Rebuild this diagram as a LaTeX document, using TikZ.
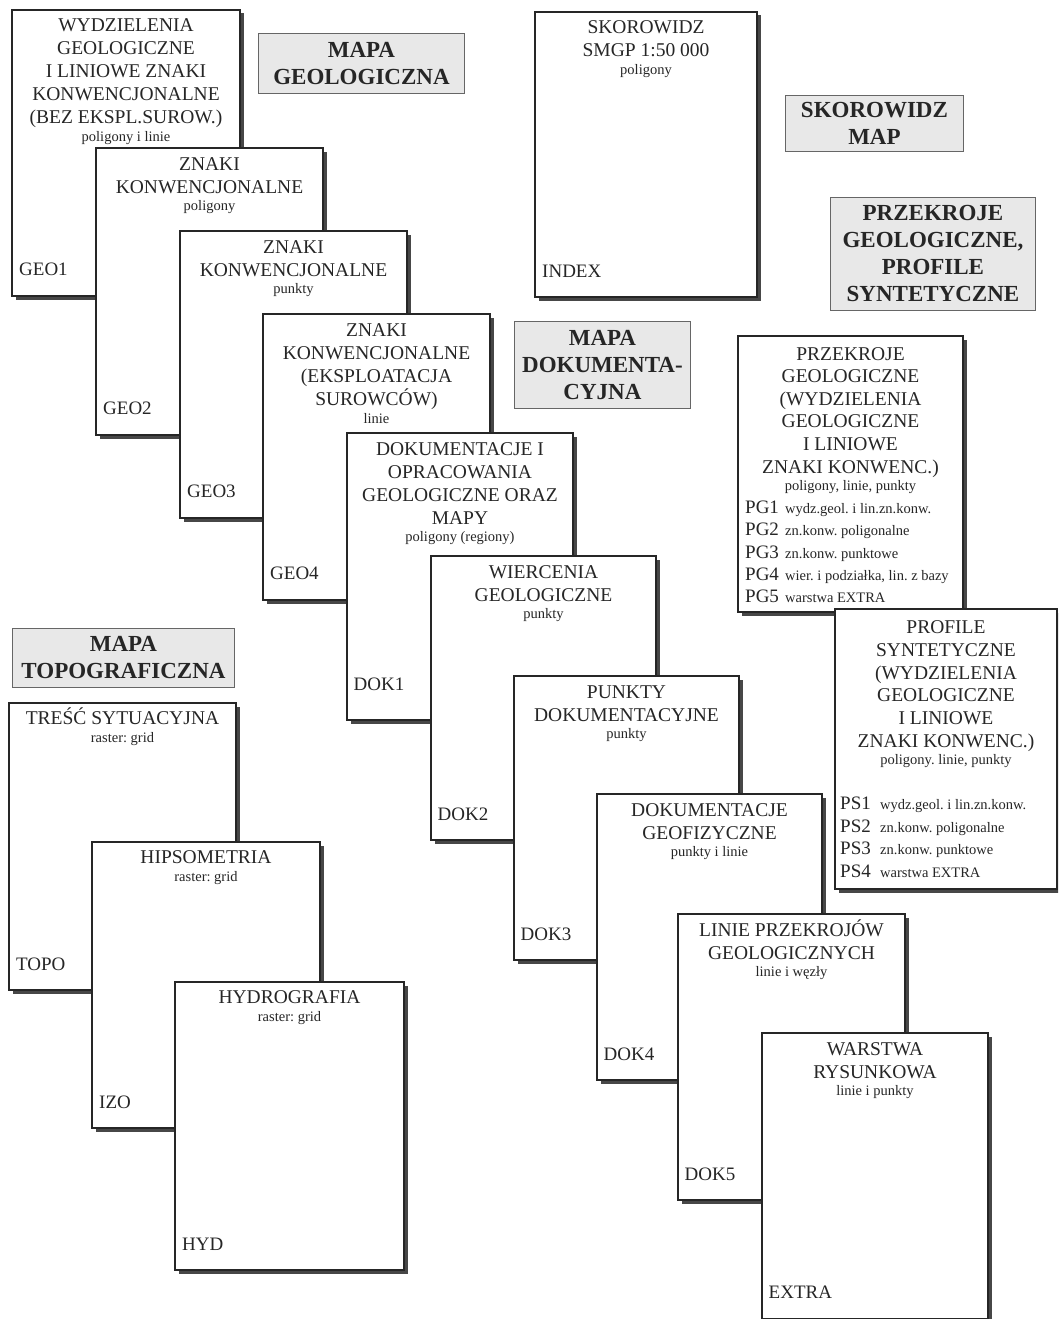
\documentclass[tikz,border=0pt]{standalone}
\usepackage{fontspec}
\setmainfont{Liberation Serif}
\frenchspacing
\newcommand{\smallfnt}{\fontsize{14.5}{17}\selectfont}
\newcommand{\cardtext}[1]{\begin{tabular}[t]{@{}c@{}}#1\end{tabular}}
\newcommand{\listtext}[1]{\begin{tabular}[t]{@{}l@{}}#1\end{tabular}}
\newcommand{\prow}[2]{\makebox[40pt][l]{#1}{\smallfnt #2}}
\begin{document}
\begin{tikzpicture}[x=1pt,y=-1pt,
  card/.style={draw=black!85, line width=1.5pt, fill=white, anchor=north west,
    inner sep=0pt, outer sep=0pt,
    preaction={fill=black!72, transform canvas={shift={(3.5pt,-3.5pt)}}}},
  ttl/.style={font=\fontsize{19.5}{23}\selectfont\frenchspacing, text=black!85, inner sep=0pt, anchor=base},
  code/.style={font=\fontsize{19}{23}\selectfont\frenchspacing, text=black!85, inner sep=0pt, anchor=base west},
  hdr/.style={draw=black!60, line width=0.9pt, fill=black!9, anchor=north west,
    inner sep=0pt, align=center, text=black!85,
    font=\fontsize{23}{27}\selectfont\bfseries}
]
\useasboundingbox (0,0) rectangle (1058,1319);
\fill[white] (0,0) rectangle (1058,1319);
\clip (0,0) rectangle (1058,1319);

% ---------- headers ----------
\node[hdr, minimum width=206pt, minimum height=60pt] (hgeo) at (258,33) {MAPA\\GEOLOGICZNA};
\node[hdr, minimum width=178pt, minimum height=56pt] (hidx) at (785,95) {SKOROWIDZ\\MAP};
\node[hdr, minimum width=205pt, minimum height=113pt] (hprz) at (830,197) {PRZEKROJE\\GEOLOGICZNE,\\PROFILE\\SYNTETYCZNE};
\node[hdr, minimum width=176pt, minimum height=87pt] (hdok) at (514,321) {MAPA\\DOKUMENTA-\\CYJNA};
\node[hdr, minimum width=222pt, minimum height=59pt] (htop) at (12,628) {MAPA\\TOPOGRAFICZNA};

% ---------- index ----------
\node[card, minimum width=222pt, minimum height=285pt] (idx) at (535,12) {};
\node[ttl] (idxt) at ([yshift=-22pt]idx.north) {\cardtext{SKOROWIDZ\\SMGP 1:50 000\\[-5.5pt]\smallfnt poligony}};
\node[code] (idxc) at ([xshift=7pt,yshift=20pt]idx.south west) {INDEX};

% ---------- geological map stack ----------
\node[card, minimum width=228pt, minimum height=286pt] (geo1) at (12,10) {};
\node[ttl] (geo1t) at ([yshift=-22pt]geo1.north) {\cardtext{WYDZIELENIA\\GEOLOGICZNE\\I LINIOWE ZNAKI\\KONWENCJONALNE\\(BEZ EKSPL.SUROW.)\\[-5.5pt]\smallfnt poligony i linie}};
\node[code] (geo1c) at ([xshift=7pt,yshift=21pt]geo1.south west) {GEO1};

\node[card, minimum width=227pt, minimum height=287pt] (geo2) at (96,148) {};
\node[ttl] (geo2t) at ([yshift=-22pt]geo2.north) {\cardtext{ZNAKI\\KONWENCJONALNE\\[-5.5pt]\smallfnt poligony}};
\node[code] (geo2c) at ([xshift=7pt,yshift=21pt]geo2.south west) {GEO2};

\node[card, minimum width=227pt, minimum height=287pt] (geo3) at (180,231) {};
\node[ttl] (geo3t) at ([yshift=-22pt]geo3.north) {\cardtext{ZNAKI\\KONWENCJONALNE\\[-5.5pt]\smallfnt punkty}};
\node[code] (geo3c) at ([xshift=7pt,yshift=21pt]geo3.south west) {GEO3};

\node[card, minimum width=227pt, minimum height=286pt] (geo4) at (263,314) {};
\node[ttl] (geo4t) at ([yshift=-22pt]geo4.north) {\cardtext{ZNAKI\\KONWENCJONALNE\\(EKSPLOATACJA\\SUROWCÓW)\\[-5.5pt]\smallfnt linie}};
\node[code] (geo4c) at ([xshift=7pt,yshift=21pt]geo4.south west) {GEO4};

\node[card, minimum width=226pt, minimum height=287pt] (dok1) at (347,433) {};
\node[ttl] (dok1t) at ([yshift=-22pt]dok1.north) {\cardtext{DOKUMENTACJE I\\OPRACOWANIA\\GEOLOGICZNE ORAZ\\MAPY\\[-5.5pt]\smallfnt poligony (regiony)}};
\node[code] (dok1c) at ([xshift=6.5pt,yshift=30pt]dok1.south west) {DOK1};

\node[card, minimum width=225pt, minimum height=284pt] (dok2) at (431,556) {};
\node[ttl] (dok2t) at ([yshift=-22pt]dok2.north) {\cardtext{WIERCENIA\\GEOLOGICZNE\\[-5.5pt]\smallfnt punkty}};
\node[code] (dok2c) at ([xshift=6.5pt,yshift=20pt]dok2.south west) {DOK2};

\node[card, minimum width=225pt, minimum height=284pt] (dok3) at (514,676) {};
\node[ttl] (dok3t) at ([yshift=-22pt]dok3.north) {\cardtext{PUNKTY\\DOKUMENTACYJNE\\[-5.5pt]\smallfnt punkty}};
\node[code] (dok3c) at ([xshift=6.5pt,yshift=20pt]dok3.south west) {DOK3};

\node[card, minimum width=225pt, minimum height=286pt] (dok4) at (597,794) {};
\node[ttl] (dok4t) at ([yshift=-22pt]dok4.north) {\cardtext{DOKUMENTACJE\\GEOFIZYCZNE\\[-5.5pt]\smallfnt punkty i linie}};
\node[code] (dok4c) at ([xshift=6.5pt,yshift=20pt]dok4.south west) {DOK4};

\node[card, minimum width=227pt, minimum height=286pt] (dok5) at (678,914) {};
\node[ttl] (dok5t) at ([yshift=-22pt]dok5.north) {\cardtext{LINIE PRZEKROJÓW\\GEOLOGICZNYCH\\[-5.5pt]\smallfnt linie i węzły}};
\node[code] (dok5c) at ([xshift=6.5pt,yshift=20pt]dok5.south west) {DOK5};

\node[card, minimum width=226pt, minimum height=286pt] (extra) at (762,1033) {};
\node[ttl] (extrat) at ([yshift=-22pt]extra.north) {\cardtext{WARSTWA\\RYSUNKOWA\\[-5.5pt]\smallfnt linie i punkty}};
\node[code] (extrac) at ([xshift=6.5pt,yshift=21pt]extra.south west) {EXTRA};

% ---------- cross-sections ----------
\node[card, minimum width=225pt, minimum height=276pt] (pg) at (738,336) {};
\node[ttl, font=\fontsize{19.5}{22.6}\selectfont\frenchspacing] (pgt) at ([yshift=-24pt]pg.north) {\cardtext{PRZEKROJE\\GEOLOGICZNE\\(WYDZIELENIA\\GEOLOGICZNE\\I LINIOWE\\ZNAKI KONWENC.)\\[-5.5pt]\smallfnt poligony, linie, punkty}};
\node[code, font=\fontsize{19}{22.3}\selectfont\frenchspacing] (pgl) at ([xshift=7pt,yshift=-177.5pt]pg.north west) {\listtext{%
\prow{PG1}{wydz.geol. i lin.zn.konw.}\\
\prow{PG2}{zn.konw. poligonalne}\\
\prow{PG3}{zn.konw. punktowe}\\
\prow{PG4}{wier. i podziałka, lin. z bazy}\\
\prow{PG5}{warstwa EXTRA}}};

\node[card, minimum width=222pt, minimum height=280pt] (ps) at (835,609) {};
\node[ttl, font=\fontsize{19.5}{22.8}\selectfont\frenchspacing] (pst) at ([yshift=-24.5pt]ps.north) {\cardtext{PROFILE\\SYNTETYCZNE\\(WYDZIELENIA\\GEOLOGICZNE\\I LINIOWE\\ZNAKI KONWENC.)\\[-6pt]\smallfnt poligony. linie, punkty}};
\node[code, font=\fontsize{19}{22.7}\selectfont\frenchspacing] (psl) at ([xshift=5pt,yshift=-200.5pt]ps.north west) {\listtext{%
\prow{PS1}{wydz.geol. i lin.zn.konw.}\\
\prow{PS2}{zn.konw. poligonalne}\\
\prow{PS3}{zn.konw. punktowe}\\
\prow{PS4}{warstwa EXTRA}}};

% ---------- topographic map stack ----------
\node[card, minimum width=227pt, minimum height=287pt] (topo) at (9,703) {};
\node[ttl] (topot) at ([yshift=-21.5pt]topo.north) {\cardtext{TREŚĆ SYTUACYJNA\\[-5pt]\smallfnt raster: grid}};
\node[code] (topoc) at ([xshift=7pt,yshift=20pt]topo.south west) {TOPO};

\node[card, minimum width=228pt, minimum height=286pt] (izo) at (92,842) {};
\node[ttl] (izot) at ([yshift=-21.5pt]izo.north) {\cardtext{HIPSOMETRIA\\[-5pt]\smallfnt raster: grid}};
\node[code] (izoc) at ([xshift=7pt,yshift=20pt]izo.south west) {IZO};

\node[card, minimum width=229pt, minimum height=288pt] (hyd) at (175,982) {};
\node[ttl] (hydt) at ([yshift=-21.5pt]hyd.north) {\cardtext{HYDROGRAFIA\\[-5pt]\smallfnt raster: grid}};
\node[code] (hydc) at ([xshift=7pt,yshift=20pt]hyd.south west) {HYD};
\end{tikzpicture}
\end{document}
